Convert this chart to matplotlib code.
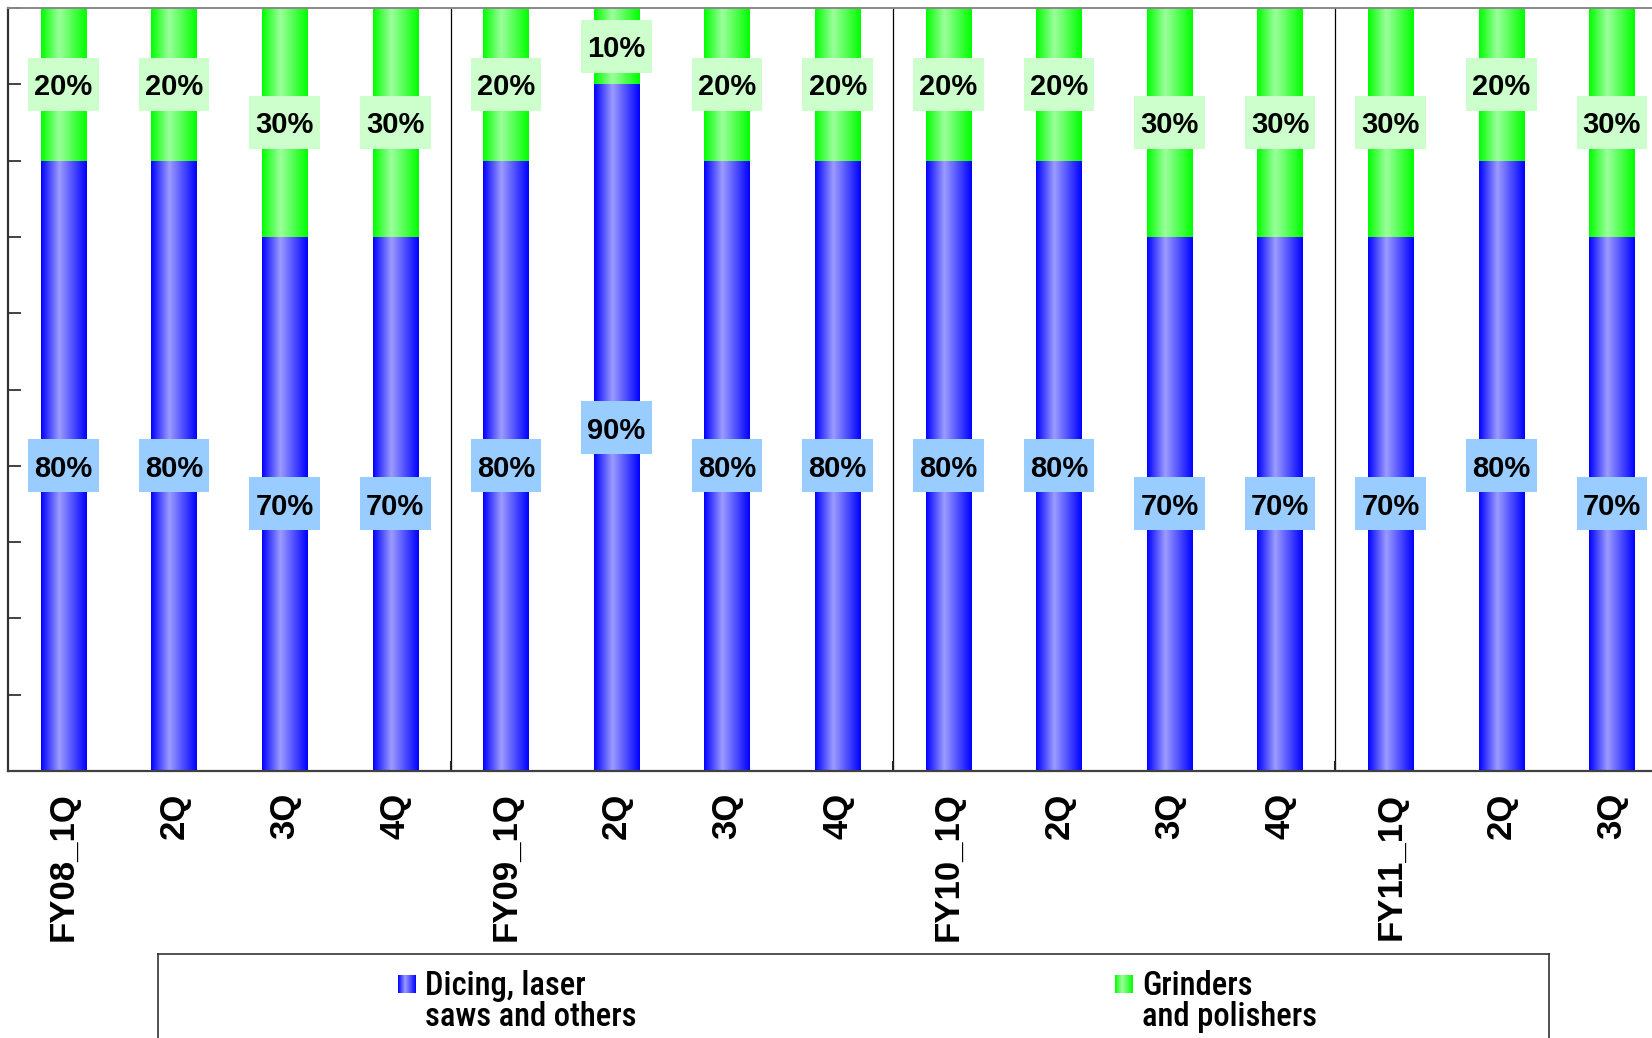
import numpy as np
import matplotlib
matplotlib.use("Agg")
import matplotlib.pyplot as plt
from matplotlib.colors import LinearSegmentedColormap
from matplotlib.patches import Rectangle

quarters = ["FY08_1Q", "2Q", "3Q", "4Q", "FY09_1Q", "2Q", "3Q", "4Q",
            "FY10_1Q", "2Q", "3Q", "4Q", "FY11_1Q", "2Q", "3Q"]
dicing = [80, 80, 70, 70, 80, 90, 80, 80, 80, 80, 70, 70, 70, 80, 70]
grinders = [20, 20, 30, 30, 20, 10, 20, 20, 20, 20, 30, 30, 30, 20, 30]
series_names = ["Dicing, laser\nsaws and others", "Grinders\nand polishers"]
group_breaks = [3.5, 7.5, 11.5]

W, H = 1652, 1038
BOLD = ["Liberation Sans", "DejaVu Sans"]
NARROW = ["Roboto Condensed", "DejaVu Sans"]

blue_cmap = LinearSegmentedColormap.from_list(
    "blue_bar", [(0, "#0000ff"), (0.4, "#9c9cff"), (1, "#0000ff")])
green_cmap = LinearSegmentedColormap.from_list(
    "green_bar", [(0, "#00ff00"), (0.4, "#9cff9c"), (1, "#00ff00")])
grad = np.linspace(0, 1, 256).reshape(1, -1)

fig = plt.figure(figsize=(W / 100, H / 100), dpi=100)
ax = fig.add_axes([8.2 / W, 267 / H, 15 * 110.6 / W, 763 / H])

x = np.arange(len(quarters))
width = 0.41
box_w, box_h = 0.64, 6.95   # label box size in data units


def gradient_bars(target, bars, cmap):
    for b in bars:
        x0, y0 = b.get_x(), b.get_y()
        x1, y1 = x0 + b.get_width(), y0 + b.get_height()
        im = target.imshow(grad, cmap=cmap, extent=(x0, x1, y0, y1),
                           aspect="auto", zorder=2, interpolation="bilinear")
        im.set_clip_path(b)


def value_label(xc, yc, text, face):
    ax.add_patch(Rectangle((xc - box_w / 2, yc - box_h / 2), box_w, box_h,
                           fc=face, ec="none", zorder=3))
    ax.text(xc, yc, text, ha="center", va="center_baseline", fontsize=21,
            fontweight="bold", family=BOLD, zorder=4)


b1 = ax.bar(x, dicing, width, facecolor="none", edgecolor="none", zorder=2)
b2 = ax.bar(x, grinders, width, bottom=dicing, facecolor="none",
            edgecolor="none", zorder=2)
gradient_bars(ax, b1, blue_cmap)
gradient_bars(ax, b2, green_cmap)

# value boxes centred on each segment
for i, (d, g) in enumerate(zip(dicing, grinders)):
    value_label(i, d / 2, f"{d}%", "#99ccff")
    value_label(i, d + g / 2, f"{g}%", "#ccffcc")

for xb in group_breaks:
    ax.axvline(xb, color="black", lw=0.9, zorder=1)

ax.set_xlim(-0.5, len(quarters) - 0.5)
ax.set_ylim(0, 100)
ax.set_yticks(np.arange(0, 101, 10))
ax.set_yticklabels([])
ax.tick_params(axis="y", direction="in", length=9, width=1.2, color="#222222")
ax.set_xticks(x)
ax.set_xticklabels(quarters, rotation=90, fontsize=25, fontweight="bold",
                   family=BOLD)
ax.set_xticks(group_breaks, minor=True)
ax.tick_params(axis="x", which="major", length=0, pad=15.5)
ax.tick_params(axis="x", which="minor", direction="in", length=7, width=1.5,
               color="#222222")
ax.spines["left"].set_color("#333333")
ax.spines["left"].set_linewidth(1.6)
ax.spines["bottom"].set_color("#404040")
ax.spines["bottom"].set_linewidth(1.6)
ax.spines["top"].set_color("#888888")
ax.spines["top"].set_linewidth(1.4)
ax.spines["right"].set_visible(False)

# legend panel, laid out in pixel units from the top-left of the figure
L, R, T, B = 158, 1549, 954, 1100
leg = fig.add_axes([L / W, (H - B) / H, (R - L) / W, (B - T) / H])
leg.set_xticks([])
leg.set_yticks([])
for s in leg.spines.values():
    s.set_color("#333333")
    s.set_linewidth(1.2)

swatch_x = [398, 1115]
for sx, name, cmap in zip(swatch_x, series_names, [blue_cmap, green_cmap]):
    leg.imshow(grad, cmap=cmap, extent=(sx, sx + 18, 993, 975), aspect="auto",
               interpolation="bilinear")
    for k, line in enumerate(name.split("\n")):
        leg.text(sx + 27, 995 + 31 * k, line, ha="left", va="baseline",
                 fontsize=23.5, fontweight="medium", family=NARROW)
leg.set_xlim(L, R)
leg.set_ylim(B, T)

fig.savefig("out.png", dpi=100)
